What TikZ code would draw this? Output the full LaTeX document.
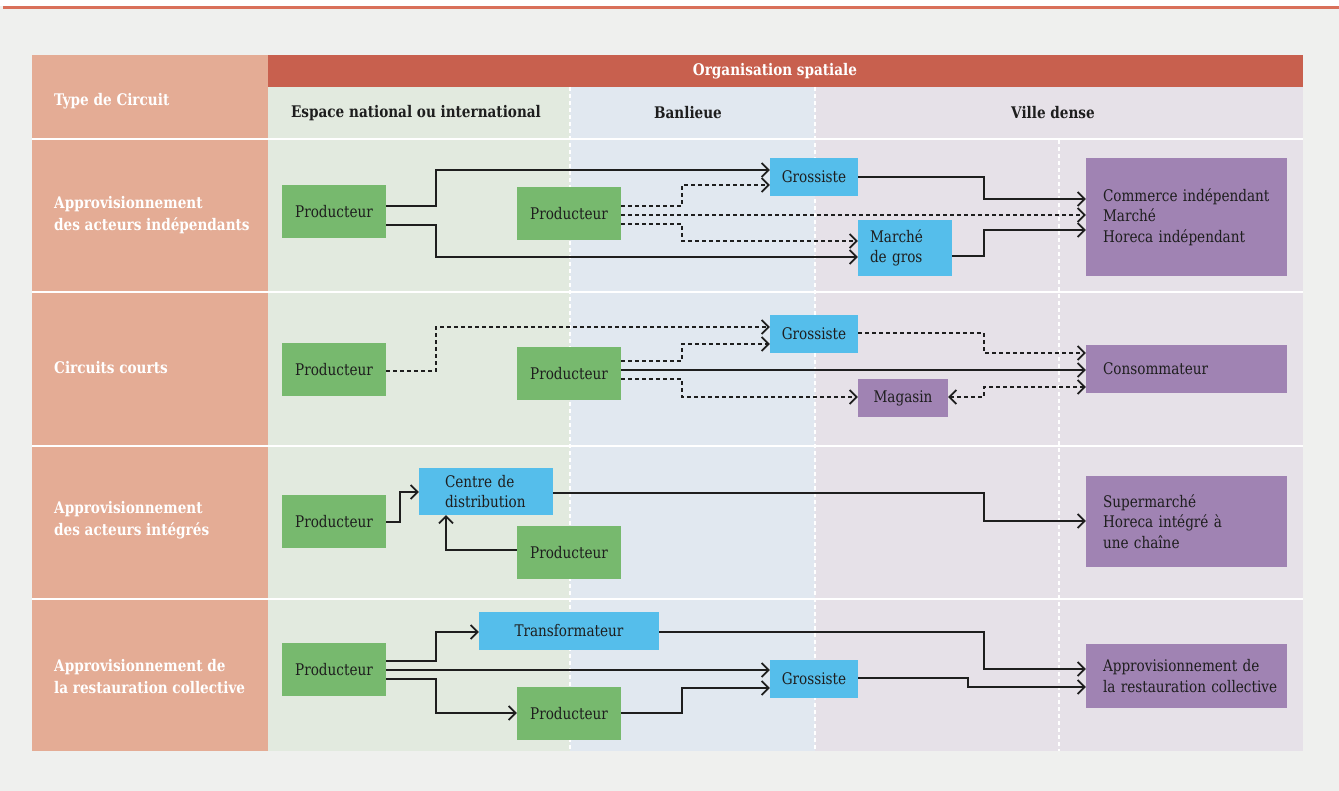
\documentclass[tikz,border=0pt]{standalone}
\usepackage{fontspec}
\setmainfont{DejaVu Serif}[FakeStretch=0.85]
\usetikzlibrary{arrows.meta}
\definecolor{bggray}{HTML}{EFF0EE}
\definecolor{topred}{HTML}{D9705A}
\definecolor{salmon}{HTML}{E4AC95}
\definecolor{headred}{HTML}{C8604E}
\definecolor{colgreen}{HTML}{E2EADF}
\definecolor{colblue}{HTML}{E1E8F0}
\definecolor{colmauve}{HTML}{E6E1E8}
\definecolor{boxgreen}{HTML}{77B96E}
\definecolor{boxblue}{HTML}{55BEEB}
\definecolor{boxpurple}{HTML}{A083B3}
\definecolor{ink}{HTML}{1E1E1E}
\tikzset{
  txt/.style={font=\fontsize{16}{20.5}\selectfont, text=ink},
  hdr/.style={font=\bfseries\fontsize{16}{22}\selectfont},
  lbl/.style={hdr, text=white, anchor=west, align=left, inner xsep=0pt},
  prod/.style={txt, fill=boxgreen, minimum width=104pt, minimum height=53pt, inner sep=0pt},
  bluebox/.style={txt, fill=boxblue, inner sep=0pt},
  purplebox/.style={txt, fill=boxpurple, inner sep=0pt},
  lefttext/.style 2 args={text width=#1, inner xsep=0pt, align=left,
     execute at begin node={\leftskip=#2\relax\hyphenpenalty=10000\relax}},
  tipb/.tip={Straight Barb[length=7pt,width=14pt,line width=1.7pt]},
  arr/.style={line width=1.7pt, draw=ink, -tipb},
  darr/.style={arr, dash pattern=on 4pt off 3pt},
  sep/.style={white, line width=2pt},
  vsep/.style={white, line width=1.3pt, dash pattern=on 4pt off 3pt},
}
\begin{document}
\begin{tikzpicture}[x=1pt,y=-1pt]
\useasboundingbox (0,0) rectangle (1339,791);
% background
\fill[bggray] (0,0) rectangle (1339,791);
\fill[white] (0,0) rectangle (1339,6);
\fill[topred] (3,6.5) rectangle (1339,9);
% table
\fill[salmon] (32,55) rectangle (268,751);
\fill[headred] (268,55) rectangle (1303,87);
\fill[colgreen] (268,87) rectangle (570,751);
\fill[colblue] (570,87) rectangle (815,751);
\fill[colmauve] (815,87) rectangle (1303,751);
\foreach \yy in {139.5,292.5,446.5,598.5} \draw[sep] (32,\yy) -- (1303,\yy);
\draw[vsep] (570,87) -- (570,751);
\draw[vsep] (815,87) -- (815,751);
\draw[vsep] (1059,140) -- (1059,751);
% headers
\node[hdr, text=white] (orgsp) at (775,71) {Organisation spatiale};
\node[lbl] (typec) at (54,101) {Type de Circuit};
\node[hdr, text=ink] (hesp) at (416,113) {Espace national ou international};
\node[hdr, text=ink] (hban) at (688,113) {Banlieue};
\node[hdr, text=ink] (hvil) at (1053,113) {Ville dense};
% row labels
\node[lbl] (l1) at (54,215) {Approvisionnement\\des acteurs indépendants};
\node[lbl] (l2) at (54,368) {Circuits courts};
\node[lbl] (l3) at (54,520) {Approvisionnement\\des acteurs intégrés};
\node[lbl] (l4) at (54,677) {Approvisionnement de\\la restauration collective};

% ---------- Row 1
\node[prod] (p1a) at (334,211.5) {Producteur};
\node[prod] (p1b) at (569,213.5) {Producteur};
\node[bluebox, minimum width=88pt, minimum height=38pt] (gro1) at (814,177) {Grossiste};
\node[bluebox, minimum height=56pt, lefttext={94pt}{12pt}] (mdg) at (905,248) {Marché\\de gros};
\node[purplebox, minimum height=118pt, lefttext={201pt}{17pt}] (com) at (1186.5,217) {Commerce indépendant\\Marché\\Horeca indépendant};

\draw[arr] (p1a.east |- 0,206) -| (436,170) -- (gro1.west |- 0,170);
\draw[arr] (p1a.east |- 0,225) -| (436,257) -- (mdg.west |- 0,257);
\draw[darr] (p1b.east |- 0,206) -| (682,185) -- (gro1.west |- 0,185);
\draw[darr] (p1b.east |- 0,215) -- (com.west |- 0,215);
\draw[darr] (p1b.east |- 0,224) -| (682,241) -- (mdg.west |- 0,241);
\draw[arr] (gro1.east |- 0,177) -| (984,199) -- (com.west |- 0,199);
\draw[arr] (mdg.east |- 0,256) -| (984,230) -- (com.west |- 0,230);

% ---------- Row 2
\node[prod] (p2a) at (334,369.5) {Producteur};
\node[prod] (p2b) at (569,373.5) {Producteur};
\node[bluebox, minimum width=88pt, minimum height=38pt] (gro2) at (814,334) {Grossiste};
\node[purplebox, minimum width=90pt, minimum height=38pt] (mag) at (903,398) {Magasin};
\node[purplebox, minimum height=48pt, lefttext={201pt}{17pt}] (con) at (1186.5,369) {Consommateur};

\draw[darr] (p2a.east |- 0,371) -| (436,327) -- (gro2.west |- 0,327);
\draw[darr] (p2b.east |- 0,361) -| (682,344) -- (gro2.west |- 0,344);
\draw[arr] (p2b.east |- 0,370) -- (con.west |- 0,370);
\draw[darr] (p2b.east |- 0,379) -| (682,397) -- (mag.west |- 0,397);
\draw[darr] (gro2.east |- 0,333) -| (984,353) -- (con.west |- 0,353);
\draw[darr, tipb-tipb] (mag.east |- 0,397) -| (984,387) -- (con.west |- 0,387);

% ---------- Row 3
\node[prod] (p3a) at (334,521.5) {Producteur};
\node[bluebox, minimum height=47pt, lefttext={134pt}{26pt}] (cdd) at (486,491.5) {Centre de\\distribution};
\node[prod] (p3b) at (569,552.5) {Producteur};
\node[purplebox, minimum height=91pt, lefttext={201pt}{17pt}] (sup) at (1186.5,521.5) {Supermarché\\Horeca intégré à\\une chaîne};

\draw[arr] (p3a.east |- 0,522) -| (400,492) -- (cdd.west |- 0,492);
\draw[arr] (p3b.west |- 0,550) -| (cdd.south -| 446,0);
\draw[arr] (cdd.east |- 0,493) -| (984,521) -- (sup.west |- 0,521);

% ---------- Row 4
\node[prod] (p4a) at (334,669.5) {Producteur};
\node[bluebox, minimum width=180pt, minimum height=38pt] (tra) at (569,631) {Transformateur};
\node[prod] (p4b) at (569,713.5) {Producteur};
\node[bluebox, minimum width=88pt, minimum height=38pt] (gro4) at (814,679) {Grossiste};
\node[purplebox, minimum height=64pt, lefttext={201pt}{17pt}] (app) at (1186.5,676) {Approvisionnement de\\la restauration collective};

\draw[arr] (p4a.east |- 0,661) -| (436,632) -- (tra.west |- 0,632);
\draw[arr] (p4a.east |- 0,670) -- (gro4.west |- 0,670);
\draw[arr] (p4a.east |- 0,679) -| (436,713) -- (p4b.west |- 0,713);
\draw[arr] (p4b.east |- 0,713) -| (682,688) -- (gro4.west |- 0,688);
\draw[arr] (tra.east |- 0,632) -| (984,669) -- (app.west |- 0,669);
\draw[arr] (gro4.east |- 0,678) -| (968,687) -- (app.west |- 0,687);
\end{tikzpicture}
\end{document}
